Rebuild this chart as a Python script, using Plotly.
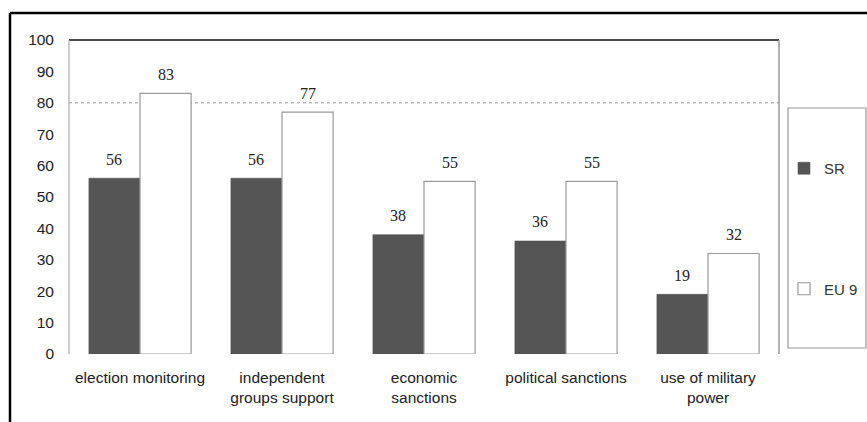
import plotly.graph_objects as go

categories = ["election monitoring", "independent<br>groups support", "economic<br>sanctions",
              "political sanctions", "use of military<br>power"]
sr_values = [56, 56, 38, 36, 19]
eu_values = [83, 77, 55, 55, 32]
series_names = ["SR", "EU 9"]
y_ticks = list(range(0, 101, 10))
reference_level = 80

W, H = 867, 422
ML, MR, MT, MB = 69, 88, 40, 68
PW, PH = W - ML - MR, H - MT - MB

def px_x(x):
    return (x - ML) / PW

def px_y(y):
    return (H - MB - y) / PH

fig = go.Figure()
fig.add_trace(go.Bar(x=categories, y=sr_values, name=series_names[0], legendgroup="a",
                     marker=dict(color="#555555", line=dict(color="#4a4a4a", width=0.5))))
fig.add_trace(go.Bar(x=categories, y=eu_values, name=series_names[1], legendgroup="b",
                     marker=dict(color="white", line=dict(color="#9a9a9a", width=1.2))))

annotations = []
for i, c in enumerate(categories):
    for vals, off in ((sr_values, -0.18), (eu_values, 0.18)):
        annotations.append(dict(x=i + off, y=vals[i], xref="x", yref="y", text=str(vals[i]),
                                showarrow=False, yshift=19,
                                font=dict(family="Liberation Serif", size=16, color="#222")))

shapes = [
    # dotted reference line
    dict(type="line", xref="paper", yref="y", x0=0, x1=1, y0=reference_level, y1=reference_level,
         line=dict(color="#9a9a9a", width=1, dash="dot"), layer="below"),
    # plot frame
    dict(type="line", xref="paper", yref="paper", x0=0, x1=1, y0=1, y1=1,
         line=dict(color="#111", width=1.5)),
    dict(type="line", xref="paper", yref="paper", x0=0, x1=0, y0=0, y1=1,
         line=dict(color="#aaaaaa", width=1.2)),
    dict(type="line", xref="paper", yref="paper", x0=1, x1=1, y0=0, y1=1,
         line=dict(color="#999999", width=1.5)),
    # outer frame
    dict(type="line", xref="paper", yref="paper", x0=px_x(10), x1=px_x(W), y0=px_y(13), y1=px_y(13),
         line=dict(color="#000", width=2.5)),
    dict(type="line", xref="paper", yref="paper", x0=px_x(10), x1=px_x(10), y0=px_y(13), y1=px_y(H),
         line=dict(color="#000", width=2.5)),
    # legend box
    dict(type="rect", xref="paper", yref="paper", x0=px_x(788), x1=px_x(866), y0=px_y(348), y1=px_y(108),
         line=dict(color="#9a9a9a", width=1.2), fillcolor="rgba(0,0,0,0)"),
]

fig.update_layout(
    width=W, height=H,
    margin=dict(l=ML, r=MR, t=MT, b=MB, autoexpand=False),
    paper_bgcolor="white", plot_bgcolor="white",
    barmode="group", bargap=0.28, bargroupgap=0,
    font=dict(family="Liberation Sans", size=15, color="#222"),
    xaxis=dict(showline=False, showgrid=False, ticks="", ticklabelstandoff=12,
               tickfont=dict(size=15.5, color="#222")),
    yaxis=dict(range=[0, 100], tickvals=y_ticks, showgrid=False, zeroline=False, showline=False,
               ticks="", ticklabelstandoff=14, tickfont=dict(size=15.5, color="#222")),
    showlegend=True,
    legend=dict(x=px_x(784), y=px_y(152), xanchor="left", yanchor="top",
                bgcolor="rgba(0,0,0,0)", borderwidth=0, tracegroupgap=98,
                font=dict(size=15, color="#333"), itemwidth=30),
    annotations=annotations,
    shapes=shapes,
)

fig.write_html("out.html")
